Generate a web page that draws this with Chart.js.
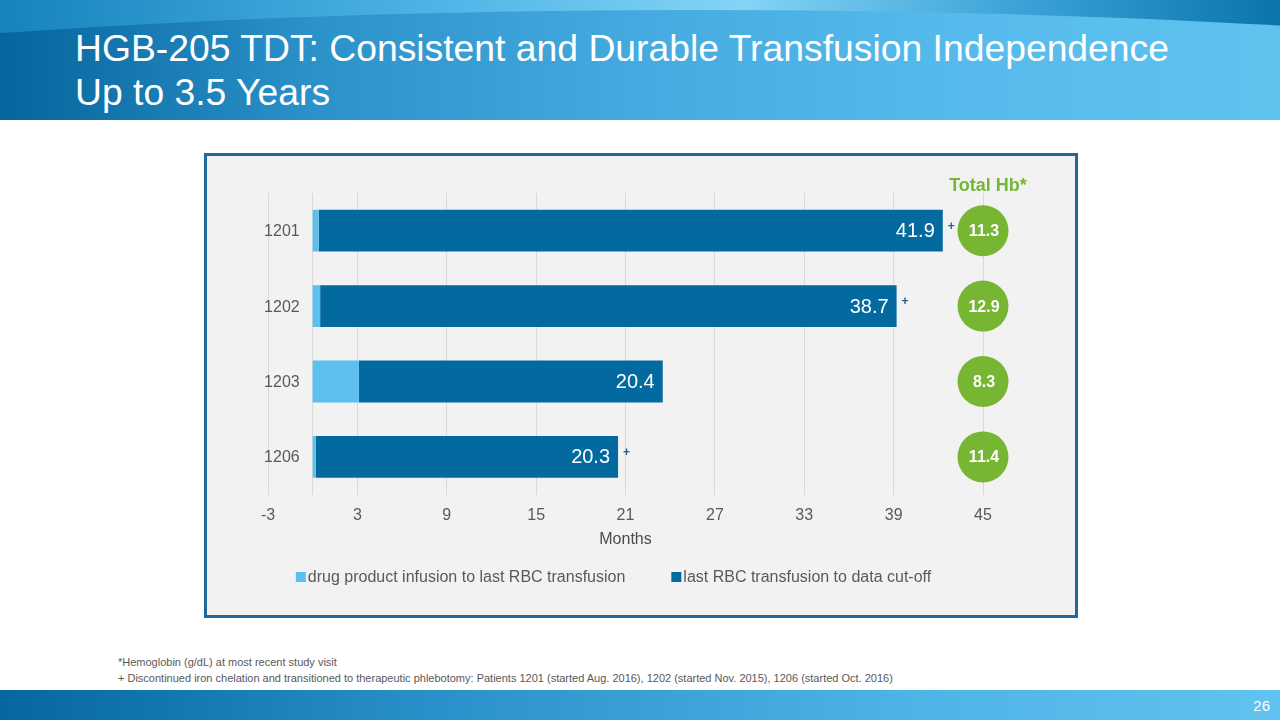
<!DOCTYPE html>
<html>
<head>
<meta charset="utf-8">
<title>HGB-205 TDT</title>
<script src="https://cdn.jsdelivr.net/npm/chart.js@4.4.1/dist/chart.umd.min.js"></script>
<style>
body { margin: 0; width: 1280px; height: 720px; position: relative; overflow: hidden; background: #fff; font-family: "Liberation Sans", Arial, sans-serif; }
#header { position: absolute; left: 0; top: 0; width: 1280px; height: 120px; overflow: hidden;
  background: linear-gradient(90deg, #1683bd 0%, #4fb6e6 35%, #84d4f6 58%, #3aa2d6 80%, #0a74ab 100%); }
#band { position: absolute; left: -800px; top: 10px; width: 3000px; height: 400px; border-radius: 50%;
  background: linear-gradient(90deg, #05659c 26.7%, #2b91c9 37%, #45aadf 48%, #56bbec 59%, #5fc3f0 69.3%); }
#title { position: absolute; left: 75px; top: 26px; color: #fff; font-size: 37.3px; line-height: 44px; }
#box { position: absolute; left: 204px; top: 153px; width: 874px; height: 465px; box-sizing: border-box;
  border: 3px solid #21699a; background: #f2f2f2; }
#wrap { position: absolute; left: 207px; top: 156px; width: 868px; height: 459px; }
#notes { position: absolute; left: 118px; top: 654px; font-size: 11px; line-height: 16px; color: #595959; }
#footer { position: absolute; left: 0; top: 690px; width: 1280px; height: 30px;
  background: linear-gradient(90deg, #05679f 0%, #2a92ca 35%, #4db3e6 70%, #60c3f0 100%); }
#page { position: absolute; right: 10px; top: 697px; color: #fff; font-size: 15px; }
</style>
</head>
<body>
<div id="header"><div id="band"></div>
  <div id="title">HGB-205 TDT: Consistent and Durable Transfusion Independence<br>Up to 3.5 Years</div>
</div>
<div id="box"></div>
<div id="wrap"><canvas id="hbChart"></canvas></div>
<div id="notes">*Hemoglobin (g/dL) at most recent study visit<br>+ Discontinued iron chelation and transitioned to therapeutic phlebotomy: Patients 1201 (started Aug. 2016), 1202 (started Nov. 2015), 1206 (started Oct. 2016)</div>
<div id="footer"></div>
<div id="page">26</div>

<script>
// Patients and months
var patients = ['1201', '1202', '1203', '1206'];
var infusionToLastRbc = [0.4, 0.5, 3.1, 0.2];
var lastRbcToCutoff = [41.9, 38.7, 20.4, 20.3];
var totalHb = [11.3, 12.9, 8.3, 11.4];
var phlebotomy = [true, true, false, true];
var seriesNames = ['drug product infusion to last RBC transfusion', 'last RBC transfusion to data cut-off'];
var seriesColors = ['#5bc0ee', '#036a9f'];
var hbColumn = 45;

var FONT = '"Liberation Sans", Arial, sans-serif';

// draws patient labels, value labels, + marks, Hb circles and the legend
var extrasPlugin = {
    id: 'extras',
    afterDatasetsDraw: function(chart) {
        var ctx = chart.ctx;
        var xs = chart.scales.x;
        var ys = chart.scales.y;
        var meta = chart.getDatasetMeta(1);
        ctx.save();
        ctx.textBaseline = 'middle';

        // category labels left of the 0 line
        var x0 = xs.getPixelForValue(0);
        ctx.font = '16px ' + FONT;
        ctx.fillStyle = '#595959';
        ctx.textAlign = 'right';
        patients.forEach(function(p, i) {
            ctx.fillText(p, x0 - 13, ys.getPixelForValue(i) + 1);
        });

        meta.data.forEach(function(bar, i) {
            ctx.font = '20px ' + FONT;
            ctx.fillStyle = '#ffffff';
            ctx.textAlign = 'right';
            ctx.fillText(lastRbcToCutoff[i].toFixed(1), bar.x - 8, bar.y + 1);
            if (phlebotomy[i]) {
                ctx.font = 'bold 12px ' + FONT;
                ctx.fillStyle = '#1f5f8e';
                ctx.textAlign = 'left';
                ctx.fillText('+', bar.x + 5, bar.y - 4);
            }
        });

        var cx = xs.getPixelForValue(hbColumn);
        totalHb.forEach(function(v, i) {
            var cy = ys.getPixelForValue(i);
            ctx.beginPath();
            ctx.arc(cx, cy, 25.5, 0, Math.PI * 2);
            ctx.fillStyle = '#77b632';
            ctx.fill();
            ctx.font = 'bold 16px ' + FONT;
            ctx.fillStyle = '#ffffff';
            ctx.textAlign = 'center';
            ctx.fillText(v.toFixed(1), cx + 1, cy + 1);
        });
        ctx.font = 'bold 18px ' + FONT;
        ctx.fillStyle = '#77b632';
        ctx.textAlign = 'center';
        ctx.fillText('Total Hb*', cx + 5, chart.chartArea.top - 7);

        // legend
        ctx.font = '16px ' + FONT;
        var gap = 46;
        var widths = seriesNames.map(function(n) { return 12 + ctx.measureText(n).width; });
        var total = widths[0] + widths[1] + gap;
        var lx = (chart.chartArea.left + chart.chartArea.right) / 2 - 12 - total / 2;
        var ly = 421;
        ctx.textAlign = 'left';
        seriesNames.forEach(function(n, i) {
            ctx.fillStyle = seriesColors[i];
            ctx.fillRect(lx, ly - 5, 10, 10);
            ctx.fillStyle = '#595959';
            ctx.fillText(n, lx + 12, ly + 1);
            lx += widths[i] + gap;
        });
        ctx.restore();
    }
};

var ctx = document.getElementById('hbChart').getContext('2d');
var hbChart = new Chart(ctx, {
    type: 'bar',
    data: {
        labels: patients,
        datasets: [{
            label: seriesNames[0],
            data: infusionToLastRbc,
            backgroundColor: seriesColors[0]
        }, {
            label: seriesNames[1],
            data: lastRbcToCutoff,
            backgroundColor: seriesColors[1]
        }]
    },
    options: {
        indexAxis: 'y',
        responsive: true,
        maintainAspectRatio: false,
        animation: false,
        categoryPercentage: 1,
        barPercentage: 0.555,
        layout: { padding: { left: 61, right: 92, top: 37, bottom: 66 } },
        plugins: {
            legend: { display: false },
            tooltip: { enabled: false }
        },
        scales: {
            x: {
                stacked: true,
                min: -3,
                max: 45,
                ticks: { stepSize: 6, color: '#595959', font: { size: 16, family: FONT }, padding: 11 },
                grid: { color: '#d9d9d9', drawTicks: false },
                border: { display: false },
                title: { display: true, text: 'Months', color: '#4a4a4a', font: { size: 16, family: FONT }, padding: { top: -6, bottom: 0 } }
            },
            y: {
                stacked: true,
                position: { x: 0 },
                ticks: { display: false },
                grid: { color: 'transparent', drawTicks: false },
                border: { display: true, color: '#d9d9d9' }
            }
        }
    },
    plugins: [extrasPlugin]
});
</script>
</body>
</html>
